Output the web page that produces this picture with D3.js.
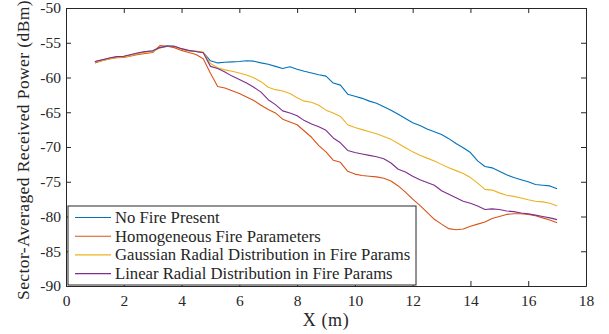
<!DOCTYPE html>
<html>

<head>
    <meta charset="UTF-8">
    <title>Sector-Averaged Received Power</title>
    <style>
        body { margin: 0; background: #fff; }
        svg text { font-family: "Liberation Serif", "Times New Roman", serif; fill: #262626; }
    </style>
</head>

<body>
    <svg width="609" height="334"></svg>
    <script src="https://cdn.jsdelivr.net/npm/d3@7"></script>
    <script>
        // positions along the path (m)
        const xs = [1, 1.25, 1.5, 1.75, 2, 2.25, 2.5, 2.75, 3, 3.25, 3.5, 3.75, 4, 4.25, 4.5, 4.75,
            5, 5.25, 5.5, 5.75, 6, 6.25, 6.5, 6.75, 7, 7.25, 7.5, 7.75, 8, 8.25, 8.5, 8.75,
            9, 9.25, 9.5, 9.75, 10, 10.25, 10.5, 10.75, 11, 11.25, 11.5, 11.75, 12, 12.25, 12.5, 12.75,
            13, 13.25, 13.5, 13.75, 14, 14.25, 14.5, 14.75, 15, 15.25, 15.5, 15.75, 16, 16.25, 16.5, 16.75, 17];

        const noFire = [-57.75, -57.5, -57.25, -57.05, -57.0, -56.8, -56.5, -56.3, -56.2, -55.7, -55.45, -55.5, -55.9, -56.15, -56.25, -56.4,
            -57.6, -57.9, -57.8, -57.75, -57.7, -57.6, -57.65, -57.9, -58.1, -58.4, -58.7, -58.45, -58.8, -59.1, -59.35, -59.6,
            -59.8, -60.8, -61.1, -62.4, -62.7, -63.0, -63.4, -63.7, -64.2, -64.7, -65.3, -65.9, -66.5, -66.9, -67.4, -67.8,
            -68.2, -68.8, -69.5, -70.1, -70.8, -72.0, -72.8, -73.0, -73.5, -74.0, -74.4, -74.7, -75.0, -75.4, -75.5, -75.6, -76.0];

        const homogeneous = [-57.9, -57.6, -57.35, -57.15, -57.1, -56.9, -56.7, -56.55, -56.4, -55.4, -55.5, -55.7, -56.1, -56.4, -56.7, -57.3,
            -59.4, -61.3, -61.5, -61.9, -62.3, -62.8, -63.3, -64.0, -64.6, -65.1, -66.0, -66.4, -66.8, -67.7, -68.6, -69.8,
            -70.7, -71.9, -72.2, -73.5, -73.9, -74.1, -74.2, -74.3, -74.5, -74.9, -75.6, -76.5, -77.5, -78.4, -79.4, -80.4,
            -81.1, -81.75, -81.9, -81.8, -81.4, -81.1, -80.8, -80.3, -80.0, -79.7, -79.6, -79.6, -79.7, -79.9, -80.2, -80.5, -80.9];

        const gaussian = [-57.8, -57.55, -57.3, -57.1, -57.05, -56.85, -56.55, -56.4, -56.25, -55.75, -55.55, -55.55, -55.95, -56.15, -56.2, -56.35,
            -58.0, -58.6, -58.9, -59.1, -59.35, -59.65, -60.05, -60.6, -61.4, -61.75, -61.95, -62.3, -62.9, -63.4, -63.55, -64.0,
            -64.7, -65.1, -65.6, -66.8, -67.2, -67.5, -67.8, -68.1, -68.5, -68.9, -69.5, -70.1, -70.7, -71.2, -71.6, -72.0,
            -72.5, -73.0, -73.4, -73.8, -74.4, -75.2, -76.1, -76.2, -76.6, -76.95, -77.1, -77.35, -77.6, -77.8, -77.9, -78.1, -78.5];

        const linear = [-57.7, -57.45, -57.2, -57.0, -56.95, -56.7, -56.45, -56.25, -56.15, -55.7, -55.5, -55.5, -55.85, -56.1, -56.25, -56.45,
            -58.4, -58.7, -59.2, -59.8, -60.3, -60.8, -61.4, -62.1, -63.2, -63.9, -64.8, -65.1, -65.5, -66.2, -66.7, -67.1,
            -67.6, -68.7, -69.4, -70.5, -70.8, -71.0, -71.2, -71.4, -71.7, -72.3, -73.2, -73.6, -74.2, -74.7, -75.1, -75.5,
            -76.3, -76.8, -77.3, -77.8, -78.1, -78.5, -79.0, -78.9, -79.0, -79.2, -79.3, -79.5, -79.6, -79.8, -80.0, -80.2, -80.45];

        const seriesNames = ["No Fire Present", "Homogeneous Fire Parameters",
            "Gaussian Radial Distribution in Fire Params", "Linear Radial Distribution in Fire Params"];
        const seriesValues = [noFire, homogeneous, gaussian, linear];
        const colors = ["#0072BD", "#D95319", "#EDB120", "#7E2F8E"];

        const xTicks = [0, 2, 4, 6, 8, 10, 12, 14, 16, 18];
        const yTicks = [-90, -85, -80, -75, -70, -65, -60, -55, -50];

        const svg = d3.select("svg"),
            margin = { top: 8, right: 23, bottom: 48, left: 66 },
            width = +svg.attr("width") - margin.left - margin.right,
            height = +svg.attr("height") - margin.top - margin.bottom,
            x = d3.scaleLinear().domain([0, 18]).range([0, width]),
            y = d3.scaleLinear().domain([-90, -50]).range([height, 0]),
            g = svg.append("g")
                .attr("transform", `translate(${margin.left},${margin.top})`);

        const fmt = d => String(d);

        // lines first, axes box drawn on top
        const line = d3.line()
            .x((d, i) => x(xs[i]))
            .y(d => y(d));

        g.selectAll(".series")
            .data(seriesValues)
            .enter().append("path")
            .attr("class", "series")
            .attr("fill", "none")
            .attr("stroke", (d, i) => colors[i])
            .attr("stroke-width", 1.1)
            .attr("stroke-linejoin", "round")
            .attr("d", line);

        g.append("g")
            .attr("class", "axis axis-x")
            .attr("transform", `translate(0,${height})`)
            .call(d3.axisBottom(x).tickValues(xTicks).tickFormat(fmt).tickSizeInner(-5).tickSizeOuter(0).tickPadding(9));

        g.append("g")
            .attr("class", "axis axis-top")
            .call(d3.axisTop(x).tickValues(xTicks).tickFormat("").tickSizeInner(-5).tickSizeOuter(0));

        g.append("g")
            .attr("class", "axis axis-y")
            .call(d3.axisLeft(y).tickValues(yTicks).tickFormat(fmt).tickSizeInner(-5).tickSizeOuter(0).tickPadding(5));

        g.append("g")
            .attr("class", "axis axis-right")
            .attr("transform", `translate(${width},0)`)
            .call(d3.axisRight(y).tickValues(yTicks).tickFormat("").tickSizeInner(-5).tickSizeOuter(0));

        svg.selectAll(".axis path, .axis line")
            .attr("stroke", "#262626")
            .attr("stroke-width", 1);
        svg.selectAll(".axis text")
            .attr("fill", "#262626")
            .style("font-size", "15.5px")
            .style("font-family", "'Liberation Serif', serif");

        // axis labels
        svg.append("text")
            .attr("x", margin.left + width / 2)
            .attr("y", 326)
            .attr("text-anchor", "middle")
            .style("font-size", "18px")
            .style("letter-spacing", "0.6px")
            .text("X (m)");

        svg.append("text")
            .attr("transform", `translate(29,${margin.top + height / 2 + 3}) rotate(-90)`)
            .attr("text-anchor", "middle")
            .style("font-size", "17.5px")
            .style("letter-spacing", "0.4px")
            .text("Sector-Averaged Received Power (dBm)");

        // legend
        const legend = svg.append("g")
            .attr("transform", "translate(68,206)");

        legend.append("rect")
            .attr("width", 348)
            .attr("height", 79)
            .attr("fill", "#fff")
            .attr("stroke", "#262626")
            .attr("stroke-width", 1);

        const rows = legend.selectAll(".row")
            .data(seriesNames)
            .enter().append("g")
            .attr("class", "row")
            .attr("transform", (d, i) => `translate(0,${11.5 + i * 18.7})`);

        rows.append("line")
            .attr("x1", 7)
            .attr("x2", 43)
            .attr("stroke", (d, i) => colors[i])
            .attr("stroke-width", 1.1);

        rows.append("text")
            .attr("x", 47)
            .attr("dy", "0.33em")
            .style("font-size", "16.7px")
            .text(d => d);
    </script>
</body>

</html>
